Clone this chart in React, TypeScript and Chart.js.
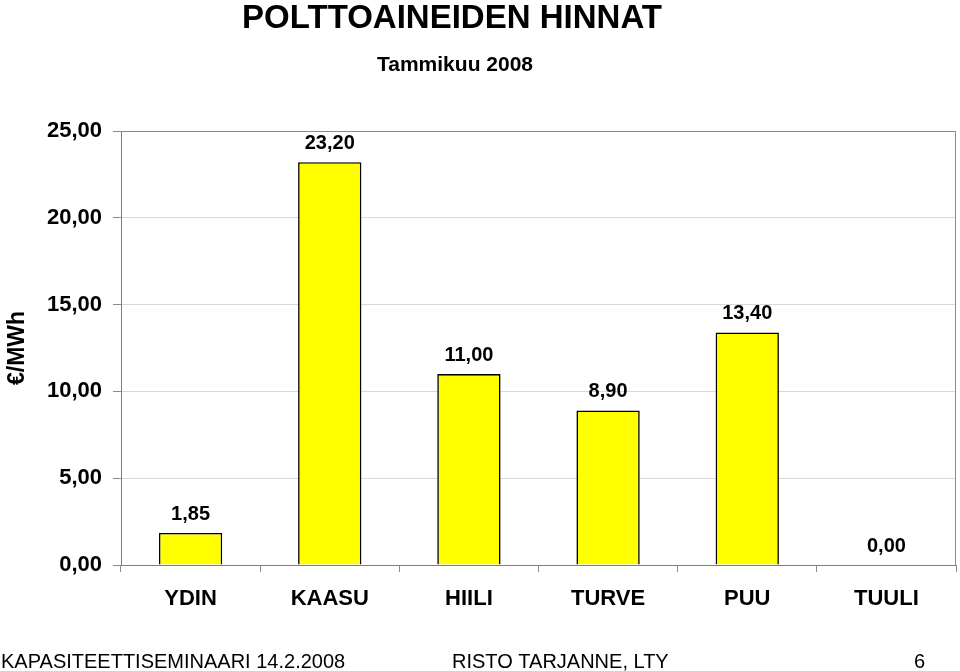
import React, { useEffect, useRef } from "react";
import { Chart, registerables } from "chart.js";

Chart.register(...registerables);

const categories = ["YDIN", "KAASU", "HIILI", "TURVE", "PUU", "TUULI"];
const prices = [1.85, 23.2, 11.0, 8.9, 13.4, 0.0];
const yTicks = [0, 5, 10, 15, 20, 25];
const titleText = "POLTTOAINEIDEN HINNAT";
const subtitleText = "Tammikuu 2008";
const yAxisTitle = "€/MWh";
const footerLeft = "KAPASITEETTISEMINAARI 14.2.2008";
const footerMid = "RISTO TARJANNE, LTY";
const footerRight = "6";

const FONT = '"Liberation Sans", Arial, sans-serif';
const fmt = (v: number) => v.toFixed(2).replace(".", ",");

export default function App() {
  const ref = useRef<HTMLCanvasElement | null>(null);

  useEffect(() => {
    if (!ref.current) return;
    Chart.defaults.font.family = FONT;
    const textPlugin = {
      id: "texts",
      afterDraw(chart: any) {
        const ctx = chart.ctx;
        const area = chart.chartArea;
        ctx.save();
        // plot frame (top & right)
        ctx.strokeStyle = "#8c8c8c";
        ctx.lineWidth = 1;
        ctx.beginPath();
        ctx.moveTo(area.left, area.top + 0.5);
        ctx.lineTo(area.right - 0.5, area.top + 0.5);
        ctx.lineTo(area.right - 0.5, area.bottom);
        ctx.stroke();
        // data labels
        ctx.fillStyle = "#000";
        ctx.font = `bold 20px ${FONT}`;
        ctx.textAlign = "center";
        ctx.textBaseline = "alphabetic";
        const meta = chart.getDatasetMeta(0);
        meta.data.forEach((bar: any, i: number) => {
          ctx.fillText(fmt(prices[i]), bar.x, bar.y - 13);
        });
        // titles
        ctx.font = `bold 33px ${FONT}`;
        ctx.fillText(titleText, 452, 28);
        ctx.font = `bold 21px ${FONT}`;
        ctx.fillText(subtitleText, 455, 71);
        // footer
        ctx.font = `20px ${FONT}`;
        ctx.textAlign = "left";
        ctx.fillText(footerLeft, 1, 668);
        ctx.fillText(footerMid, 452, 668);
        ctx.fillText(footerRight, 914, 668);
        ctx.restore();
      },
    };

    const chart = new Chart(ref.current, {
      type: "bar",
      data: {
        labels: categories,
        datasets: [
          {
            data: prices,
            backgroundColor: "#ffff00",
            borderColor: "#000000",
            borderWidth: 1.6,
            barPercentage: 0.455,
            categoryPercentage: 1,
          },
        ],
      },
      options: {
        animation: false,
        responsive: false,
        devicePixelRatio: 1,
        layout: { padding: { top: 131, right: 4, bottom: 56, left: 0 } },
        plugins: {
          legend: { display: false },
          tooltip: { enabled: false },
          title: { display: false },
        },
        scales: {
          x: {
            grid: {
              drawOnChartArea: false,
              drawTicks: true,
              tickLength: 7,
              tickColor: "#8c8c8c",
            },
            border: { color: "#808080", width: 1 },
            ticks: {
              color: "#000",
              font: { size: 22, weight: "bold" },
              padding: 14,
            },
            afterFit(scale: any) {
              scale.height = 50;
            },
          },
          y: {
            min: 0,
            max: 25,
            afterBuildTicks(scale: any) {
              scale.ticks = yTicks.map((v) => ({ value: v }));
            },
            grid: {
              color: (c: any) => (c.tick && c.tick.value === 25 ? "#8c8c8c" : "#d9d9d9"),
              tickColor: "#8c8c8c",
              tickLength: 8,
            },
            border: { color: "#808080", width: 1 },
            ticks: {
              color: "#000",
              font: { size: 22, weight: "bold" },
              padding: 11,
              callback: (v: any) => fmt(Number(v)),
            },
            title: {
              display: true,
              text: yAxisTitle,
              color: "#000",
              font: { size: 23, weight: "bold" },
            },
            afterFit(scale: any) {
              scale.width = 121;
            },
          },
        },
      },
      plugins: [textPlugin],
    });
    return () => chart.destroy();
  }, []);

  return (
    <div style={{ position: "absolute", left: 0, top: 0, width: 960, height: 671, background: "#fff" }}>
      <canvas ref={ref} width={960} height={671} style={{ width: 960, height: 671 }} />
    </div>
  );
}
